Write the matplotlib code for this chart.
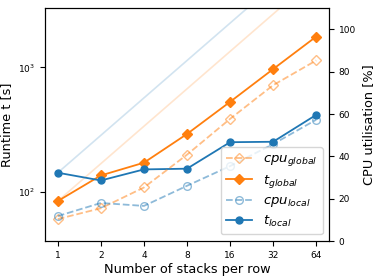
import numpy as np
import matplotlib
matplotlib.use("Agg")
import matplotlib.pyplot as plt

# stacks per row
stacks = [1, 2, 4, 8, 16, 32, 64]

# runtimes [s]
t_global = [84, 135, 171, 291, 528, 969, 1770]
t_local = [142, 123, 151, 153, 250, 252, 415]

# cpu utilisation [%]
cpu_global = [10.4, 15.5, 25.3, 40.8, 57.7, 73.6, 85.3]
cpu_local = [11.8, 18.0, 16.6, 26.1, 35.4, 45.8, 57.3]

tick_labels = ["1", "2", "4", "8", "16", "32", "64"]

blue = "tab:blue"
orange = "tab:orange"

fig, ax = plt.subplots(figsize=(3.74, 2.8), dpi=100)
fig.subplots_adjust(left=0.120, right=0.880, bottom=0.139, top=0.971)
ax2 = ax.twinx()

# ideal linear scaling guides
x = np.array(stacks, dtype=float)
ax.plot(x, t_local[0] * x / x[0], color=blue, alpha=0.2, lw=1.2, scalex=False, scaley=False)
ax.plot(x, t_global[0] * x / x[0], color=orange, alpha=0.2, lw=1.2, scalex=False, scaley=False)

l_tg, = ax.plot(stacks, t_global, color=orange, marker="D", ms=5, lw=1.3,
                label=r"$t_{global}$")
l_tl, = ax.plot(stacks, t_local, color=blue, marker="o", ms=5, lw=1.3,
                label=r"$t_{local}$")

l_cg, = ax2.plot(stacks, cpu_global, color=orange, alpha=0.5, ls="--", marker="D",
                 ms=5.5, mfc="none", lw=1.3, label=r"$cpu_{global}$")
l_cl, = ax2.plot(stacks, cpu_local, color=blue, alpha=0.5, ls="--", marker="o",
                 ms=5.5, mfc="none", lw=1.3, label=r"$cpu_{local}$")

ax.set_xscale("log", base=2)
ax.set_yscale("log")
ax.set_xticks(stacks)
ax.set_xticklabels(tick_labels)
ax.xaxis.set_minor_locator(matplotlib.ticker.NullLocator())
ax.yaxis.set_minor_locator(matplotlib.ticker.NullLocator())
ax.set_ylim(40, 3000)
ax2.set_ylim(0, 110)
ax2.set_yticks([0, 20, 40, 60, 80, 100])

ax.tick_params(labelsize=6.5)
ax2.tick_params(labelsize=6.5)
ax.set_xlabel("Number of stacks per row", fontsize=9.3)
ax.set_ylabel("Runtime t [s]", fontsize=9.3)
ax2.set_ylabel("CPU utilisation [%]", fontsize=9.3)
ax.xaxis.set_label_coords(0.5, -0.094)
ax.yaxis.set_label_coords(-0.113, 0.5)
ax2.yaxis.set_label_coords(1.116, 0.5)

ax2.legend([l_cg, l_tg, l_cl, l_tl],
           [l_cg.get_label(), l_tg.get_label(), l_cl.get_label(), l_tl.get_label()],
           loc="lower right", fontsize=9.5, handlelength=2.0, labelspacing=0.35)

fig.savefig("out.png", dpi=100)
